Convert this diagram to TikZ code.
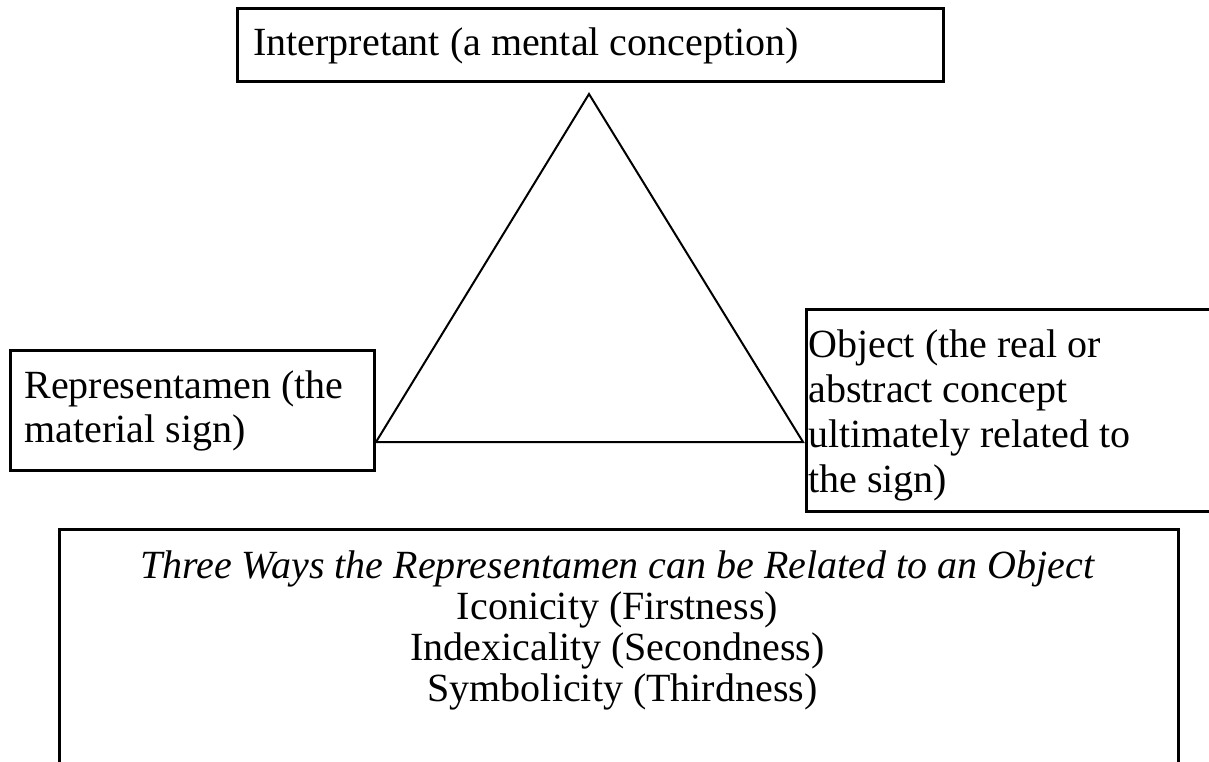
\documentclass[tikz,border=0pt]{standalone}
\usepackage{fontspec}
\setmainfont{Liberation Serif}
\begin{document}
\begin{tikzpicture}[x=0.5pt,y=-0.5pt,
  box/.style={draw, line width=1.4pt, rectangle, inner sep=0pt, anchor=north west},
  lbl/.style={anchor=base west, inner sep=0pt, align=left, font=\fontsize{20}{22}\selectfont},
  tri/.style={line width=1pt, line join=miter}]
\useasboundingbox (0,0) rectangle (1209,761);
\clip (0,0) rectangle (1209,761);
\fill[white] (0,0) rectangle (1209,761);
% boxes
\node[box, minimum width=353pt, minimum height=36.5pt] (interp) at (236,7) {};
\node[box, minimum width=182pt, minimum height=60pt] (repr) at (9,349) {};
\node[box, minimum width=250pt, minimum height=101pt] (obj) at (805,308) {};
\node[box, minimum width=559.5pt, minimum height=150pt] (ways) at (58,528) {};
% texts (base anchor = baseline of the last line)
\node[lbl] (interpT) at (253,55) {Interpretant (a mental conception)};
\node[lbl] (reprT) at (24,442) {Representamen (the\\material sign)};
\node[lbl, font=\fontsize{20}{22.5}\selectfont] (objT) at (808,492) {Object (the real or\\abstract concept\\ultimately related to\\the sign)};
\node[anchor=base, inner sep=0pt, align=center, font=\fontsize{20}{20.5}\selectfont] (waysT) at (617.5,701)
  {\textit{Three Ways the Representamen can be Related to an Object}\\Iconicity (Firstness)\\Indexicality (Secondness)\\\hspace*{0.25em}Symbolicity (Thirdness)};
% triangle
\coordinate (apex) at (589,94);
\coordinate (bl) at (376,442);
\coordinate (br) at (803,442);
\draw[tri] (apex) -- (bl) -- (br) -- cycle;
\end{tikzpicture}
\end{document}
